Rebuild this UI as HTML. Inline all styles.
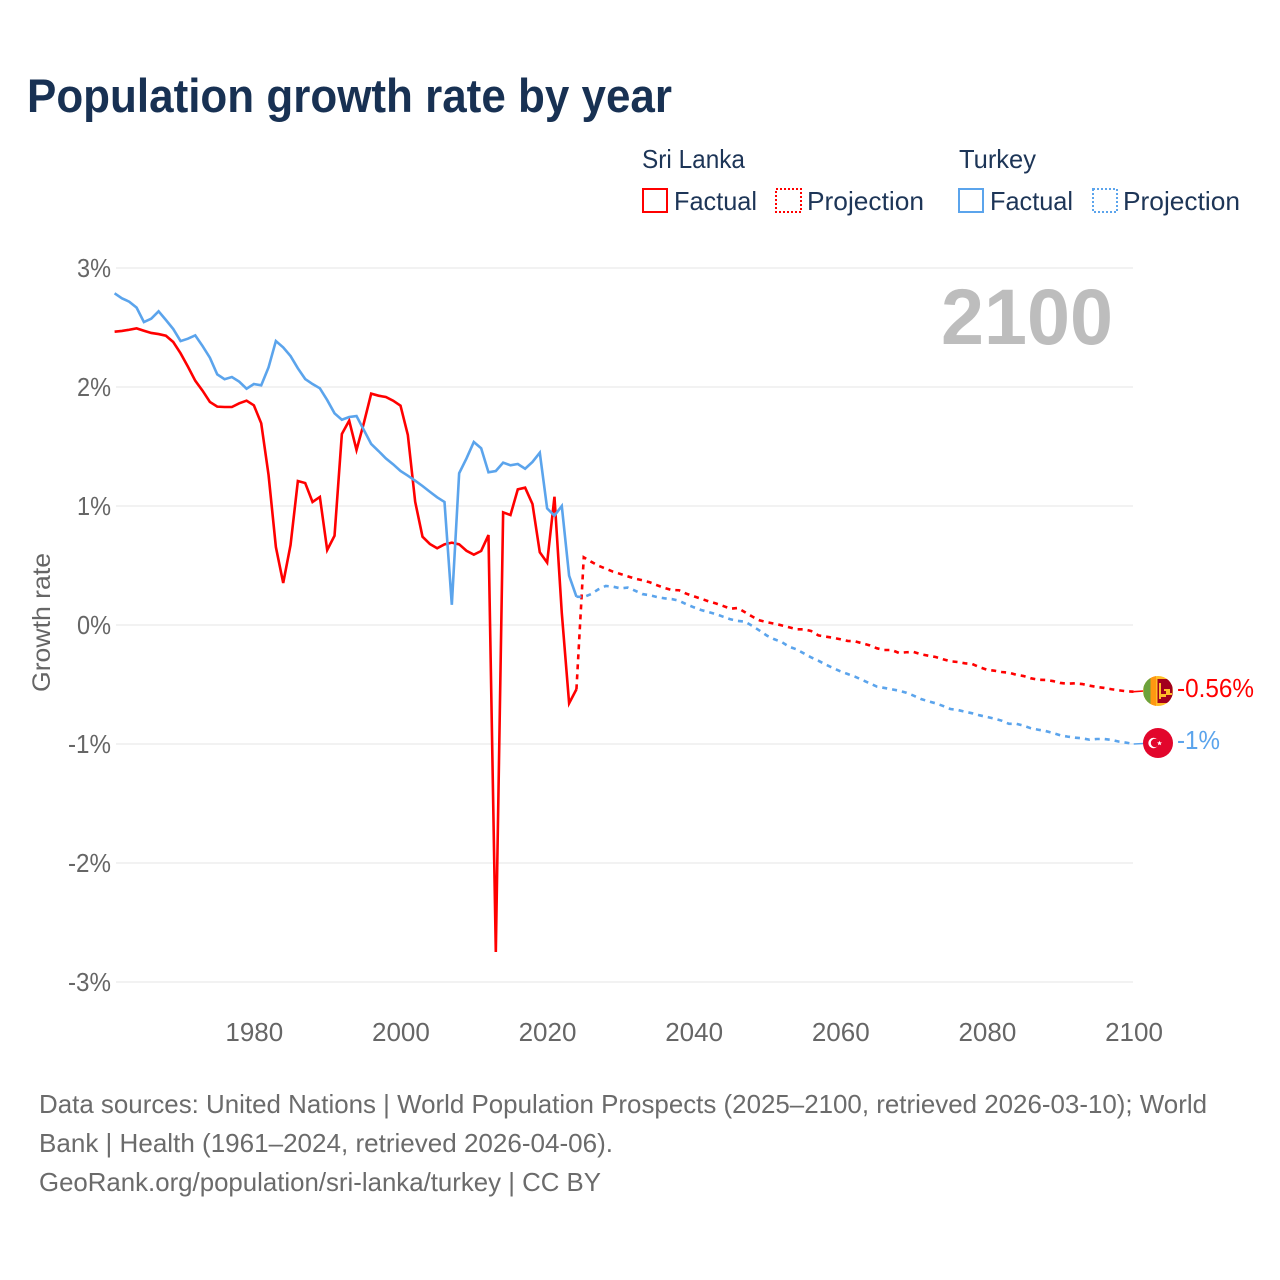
<!DOCTYPE html>
<html lang="en">
<head>
<meta charset="utf-8">
<title>Population growth rate by year</title>
<style>
html,body{margin:0;padding:0;background:#fff;width:1280px;height:1280px;overflow:hidden}
svg{display:block}
text{font-family:"Liberation Sans",Arial,sans-serif}
</style>
</head>
<body>
<svg id="chart" width="1280" height="1280" viewBox="0 0 1280 1280" xmlns="http://www.w3.org/2000/svg">
  <rect width="1280" height="1280" fill="#fff"/>
  <text x="27" y="112" font-size="47" font-weight="700" fill="#183153" textLength="645" lengthAdjust="spacingAndGlyphs">Population growth rate by year</text>

  <g font-size="26" fill="#1d3557">
    <text x="642" y="168" textLength="103" lengthAdjust="spacingAndGlyphs">Sri Lanka</text>
    <text x="959" y="168" textLength="77" lengthAdjust="spacingAndGlyphs">Turkey</text>
    <rect x="643" y="189" width="24" height="23" fill="none" stroke="#ff0000" stroke-width="2"/>
    <text x="674" y="210" textLength="83" lengthAdjust="spacingAndGlyphs">Factual</text>
    <rect x="776" y="189" width="25" height="23" fill="none" stroke="#ff0000" stroke-width="2" stroke-dasharray="2 2"/>
    <text x="807" y="210" textLength="117" lengthAdjust="spacingAndGlyphs">Projection</text>
    <rect x="959" y="189" width="24" height="23" fill="none" stroke="#5ba4ec" stroke-width="2"/>
    <text x="990" y="210" textLength="83" lengthAdjust="spacingAndGlyphs">Factual</text>
    <rect x="1093" y="189" width="24" height="23" fill="none" stroke="#5ba4ec" stroke-width="2" stroke-dasharray="2 2"/>
    <text x="1123" y="210" textLength="117" lengthAdjust="spacingAndGlyphs">Projection</text>
  </g>

  <g id="grid"></g>
  <g id="yticks"></g>
  <g id="xticks"></g>
  <text transform="translate(50,692) rotate(-90)" font-size="25" fill="#666" textLength="139" lengthAdjust="spacingAndGlyphs">Growth rate</text>
  <text x="941" y="344" font-size="79" font-weight="700" fill="#bdbdbd" textLength="172" lengthAdjust="spacingAndGlyphs">2100</text>

  <g id="series"></g>

  <defs>
    <clipPath id="flag-clip-lk"><circle cx="1158" cy="691" r="15"/></clipPath>
    <clipPath id="flag-clip-tr"><circle cx="1158" cy="743" r="15"/></clipPath>
  </defs>
  <g clip-path="url(#flag-clip-lk)">
    <rect x="1143" y="676" width="30" height="30" fill="#ffbe29"/>
    <rect x="1143.5" y="676" width="7" height="30" fill="#6ca23c"/>
    <rect x="1150.5" y="676" width="5.5" height="30" fill="#ff9811"/>
    <rect x="1157.5" y="679" width="15" height="24" fill="#a2001d"/>
    <path d="M1159 683h2v11h5v-3h-2v-2h6v4h2v2h-6v2h-5v2h-2z" fill="#ffbe29"/>
  </g>
  <g clip-path="url(#flag-clip-tr)">
    <rect x="1143" y="728" width="30" height="30" fill="#e2062c"/>
    <circle cx="1153.5" cy="743" r="5.2" fill="#fff"/>
    <circle cx="1155" cy="743" r="4.2" fill="#e2062c"/>
    <polygon points="1159.5,740.8 1160.2,742.4 1162,742.5 1160.6,743.6 1161.1,745.3 1159.5,744.4 1158,745.3 1158.4,743.6 1157,742.5 1158.8,742.4" fill="#fff"/>
  </g>
  <text x="1177" y="697" font-size="26" fill="#ff0000" textLength="77" lengthAdjust="spacingAndGlyphs">-0.56%</text>
  <text x="1177" y="749" font-size="26" fill="#5ba4ec" textLength="43" lengthAdjust="spacingAndGlyphs">-1%</text>

  <g font-size="26" fill="#6b6b6b">
    <text x="39" y="1113" textLength="1168" lengthAdjust="spacingAndGlyphs">Data sources: United Nations | World Population Prospects (2025–2100, retrieved 2026-03-10); World</text>
    <text x="39" y="1152" textLength="574" lengthAdjust="spacingAndGlyphs">Bank | Health (1961–2024, retrieved 2026-04-06).</text>
    <text x="39" y="1191" textLength="562" lengthAdjust="spacingAndGlyphs">GeoRank.org/population/sri-lanka/turkey | CC BY</text>
  </g>
</svg>

<script>
const yTickValues = [3, 2, 1, 0, -1, -2, -3];
const xTickValues = [1980, 2000, 2020, 2040, 2060, 2080, 2100];
const factualStartYear = 1961;
const projectionStartYear = 2024;

const sriLankaFactual = [
  2.465, 2.471, 2.481, 2.493, 2.473, 2.454, 2.445, 2.431, 2.378, 2.283,
  2.171, 2.053, 1.969, 1.874, 1.835, 1.832, 1.832, 1.863, 1.885, 1.846,
  1.695, 1.261, 0.655, 0.353, 0.672, 1.21, 1.193, 1.034, 1.076, 0.63,
  0.75, 1.605, 1.717, 1.471, 1.697, 1.944, 1.927, 1.916, 1.885, 1.843,
  1.597, 1.036, 0.742, 0.681, 0.645, 0.678, 0.692, 0.678, 0.624, 0.591,
  0.622, 0.756, -2.748, 0.947, 0.924, 1.14, 1.154, 1.017, 0.611, 0.524,
  1.078, 0.101, -0.658, -0.54
];
const sriLankaProjection = [
  -0.54, 0.569, 0.532, 0.498, 0.473, 0.448, 0.429, 0.409, 0.389, 0.376,
  0.359, 0.334, 0.311, 0.294, 0.292, 0.263, 0.241, 0.221, 0.199, 0.182,
  0.16, 0.137, 0.143, 0.107, 0.07, 0.039, 0.023, 0.011, -0.003, -0.019,
  -0.036, -0.036, -0.05, -0.087, -0.098, -0.107, -0.12, -0.134, -0.137, -0.154,
  -0.171, -0.196, -0.21, -0.21, -0.235, -0.229, -0.227, -0.246, -0.258, -0.269,
  -0.288, -0.305, -0.311, -0.322, -0.328, -0.355, -0.376, -0.384, -0.395, -0.401,
  -0.418, -0.429, -0.448, -0.46, -0.462, -0.471, -0.487, -0.493, -0.49, -0.496,
  -0.51, -0.521, -0.529, -0.54, -0.549, -0.557, -0.56
];
const turkeyFactual = [
  2.787, 2.745, 2.717, 2.667, 2.546, 2.574, 2.636, 2.563, 2.487, 2.386,
  2.406, 2.434, 2.344, 2.246, 2.106, 2.065, 2.084, 2.045, 1.986, 2.025,
  2.014, 2.165, 2.386, 2.333, 2.26, 2.157, 2.067, 2.025, 1.989, 1.89,
  1.779, 1.725, 1.748, 1.756, 1.639, 1.521, 1.462, 1.40, 1.35, 1.294,
  1.255, 1.213, 1.168, 1.12, 1.073, 1.034, 0.17, 1.275, 1.40, 1.538,
  1.485, 1.283, 1.294, 1.364, 1.342, 1.353, 1.313, 1.37, 1.448, 0.98,
  0.919, 1.0, 0.414, 0.238
];
const turkeyProjection = [
  0.238, 0.235, 0.26, 0.30, 0.328, 0.322, 0.308, 0.314, 0.288, 0.26,
  0.25, 0.235, 0.224, 0.218, 0.204, 0.174, 0.149, 0.126, 0.109, 0.092,
  0.07, 0.048, 0.034, 0.028, -0.008, -0.048, -0.09, -0.12, -0.143, -0.182,
  -0.204, -0.238, -0.272, -0.30, -0.333, -0.361, -0.389, -0.412, -0.434, -0.462,
  -0.49, -0.518, -0.529, -0.54, -0.552, -0.569, -0.594, -0.622, -0.641, -0.658,
  -0.68, -0.706, -0.714, -0.729, -0.742, -0.759, -0.773, -0.787, -0.804, -0.83,
  -0.83, -0.846, -0.868, -0.88, -0.891, -0.908, -0.927, -0.938, -0.947, -0.952,
  -0.964, -0.958, -0.958, -0.966, -0.98, -0.989, -1.0
];

const SVGNS = 'http://www.w3.org/2000/svg';
const RED = '#ff0000';
const BLUE = '#5ba4ec';

function xScale(year) { return 114.6 + (year - 1961) * (1133.6 - 114.6) / (2100 - 1961); }
function yScale(value) { return 625 - value * 119; }

function make(tag, attrs, parent) {
  const el = document.createElementNS(SVGNS, tag);
  for (const key in attrs) el.setAttribute(key, attrs[key]);
  parent.appendChild(el);
  return el;
}

function linePath(values, startYear) {
  return values.map(function (v, i) {
    return (i ? 'L' : 'M') + xScale(startYear + i).toFixed(2) + ' ' + yScale(v).toFixed(2);
  }).join(' ');
}

const gridGroup = document.getElementById('grid');
const yTickGroup = document.getElementById('yticks');
const xTickGroup = document.getElementById('xticks');
const seriesGroup = document.getElementById('series');

yTickValues.forEach(function (v) {
  const line = make('line', { x1: 116, x2: 1133, y1: yScale(v), y2: yScale(v), stroke: '#e6e6e6', 'stroke-width': 1 }, gridGroup);
  
  
  const text = v + '%';
  const label = make('text', { x: 111, y: yScale(v) + 9, 'text-anchor': 'end', 'font-size': 26, fill: '#666', textLength: v < 0 ? 43 : 34, lengthAdjust: 'spacingAndGlyphs' }, yTickGroup);
  
  
  label.textContent = text;
});

xTickValues.forEach(function (year) {
  const label = make('text', { x: xScale(year) + 0.4, y: 1041, 'text-anchor': 'middle', 'font-size': 26, fill: '#666' }, xTickGroup);
  
  
  label.textContent = String(year);
});

function drawLine(values, startYear, color, dashed, name) {
  const attrs = { d: linePath(values, startYear), fill: 'none', stroke: color, 'stroke-width': 2.6, 'stroke-linejoin': 'miter' };
  if (dashed) attrs['stroke-dasharray'] = '5 5';
  const path = make('path', attrs, seriesGroup);
  
  
}

drawLine(sriLankaFactual, factualStartYear, RED, false, 'sri-lanka-factual-line');
drawLine(sriLankaProjection, projectionStartYear, RED, true, 'sri-lanka-projection-line');
drawLine(turkeyFactual, factualStartYear, BLUE, false, 'turkey-factual-line');
drawLine(turkeyProjection, projectionStartYear, BLUE, true, 'turkey-projection-line');

const lastYear = projectionStartYear + sriLankaProjection.length - 1;
const leaderRed = make('line', { x1: xScale(lastYear), x2: 1144, y1: yScale(sriLankaProjection[sriLankaProjection.length - 1]), y2: 691, stroke: RED, 'stroke-width': 1.6 }, seriesGroup);


const leaderBlue = make('line', { x1: xScale(lastYear), x2: 1144, y1: yScale(turkeyProjection[turkeyProjection.length - 1]), y2: 743.5, stroke: BLUE, 'stroke-width': 1.6 }, seriesGroup);


</script>
</body>
</html>
